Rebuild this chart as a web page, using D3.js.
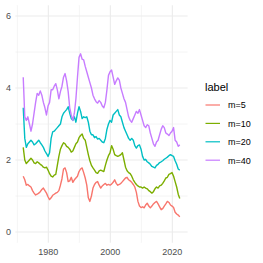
<!DOCTYPE html>
<html>
<head>
<meta charset="utf-8">
<script src="https://cdn.jsdelivr.net/npm/d3@7"></script>
<style>
  body { margin: 0; background: #fff; }
  text { font-family: "Liberation Sans", Arial, sans-serif; }
</style>
</head>
<body>
<svg id="chart" width="263" height="263"></svg>
<script>
// half-yearly readings, first at 1971.9
const startYear = 1971.9;
const step = 0.5;

const m5 = [1.55,1.45,1.3,1.32,1.28,1.25,1.15,1.08,1.03,1.05,1.08,1.12,1.18,1.22,1.15,1.08,0.98,0.9,0.95,1.02,
  1.05,1.08,1.1,1.15,1.3,1.48,1.75,1.78,1.65,1.4,1.42,1.52,1.38,1.45,1.5,1.55,1.68,1.75,1.78,1.65,
  1.5,1.3,0.95,0.85,1.0,1.22,1.32,1.38,1.4,1.3,1.22,1.28,1.32,1.35,1.3,1.32,1.3,1.33,1.38,1.45,
  1.35,1.3,1.32,1.35,1.4,1.45,1.5,1.52,1.45,1.42,1.38,1.32,1.25,1.1,0.85,0.72,0.68,0.7,0.67,0.75,
  0.8,0.72,0.67,0.72,0.78,0.82,0.85,0.78,0.7,0.62,0.65,0.72,0.78,0.85,0.82,0.75,0.72,0.68,0.55,0.5,
  0.47,0.42];
const m10 = [2.35,2.0,1.9,1.95,2.0,2.05,2.0,1.92,1.9,1.95,1.92,1.88,1.85,1.8,1.78,1.8,1.72,1.62,1.55,1.53,
  1.58,1.6,1.85,2.1,2.3,2.4,2.48,2.45,2.38,2.35,2.3,2.22,2.25,2.35,2.45,2.5,2.62,2.68,2.72,2.6,
  2.55,2.35,2.15,1.98,1.85,1.78,1.72,1.65,1.63,1.7,1.72,1.7,1.68,1.85,2.0,2.12,2.2,2.4,2.3,2.15,
  2.12,2.1,2.12,2.15,2.2,2.0,1.8,1.7,1.65,1.62,1.55,1.45,1.38,1.32,1.28,1.25,1.25,1.22,1.25,1.22,
  1.2,1.15,1.12,1.08,1.12,1.2,1.25,1.22,1.28,1.3,1.35,1.42,1.5,1.52,1.6,1.62,1.65,1.55,1.4,1.25,
  1.05,0.93];
const m20 = [3.45,2.6,2.35,2.45,2.5,2.55,2.5,2.42,2.45,2.5,2.55,2.48,2.42,2.35,2.25,2.18,2.1,2.2,2.6,2.78,
  2.8,2.85,2.9,2.95,3.0,3.2,3.3,3.35,3.4,3.48,3.3,3.15,3.1,3.2,3.05,3.3,3.48,3.35,3.15,3.2,
  3.18,3.2,3.05,2.8,2.7,2.7,2.62,2.65,2.58,2.6,2.55,2.5,2.48,2.6,2.85,3.0,3.1,3.05,3.25,3.3,
  3.35,3.4,3.25,3.2,3.05,2.9,2.8,2.7,2.6,2.55,2.6,2.55,2.4,2.33,2.4,2.42,2.3,2.1,2.0,2.02,
  1.95,1.92,1.88,1.82,1.8,1.78,1.85,1.88,1.93,1.95,1.98,2.02,2.05,2.08,2.12,2.15,2.12,2.1,1.98,1.88,
  1.75,1.72];
const m40 = [4.3,3.2,3.1,3.2,3.0,2.8,3.0,3.3,3.6,3.85,3.8,3.92,3.8,3.6,3.45,3.25,3.5,3.6,3.95,3.95,
  4.05,4.12,3.95,3.7,3.9,4.05,4.3,4.4,4.2,3.9,3.45,3.25,3.1,3.3,3.7,4.3,4.85,4.95,4.8,4.78,
  4.6,4.45,4.3,4.15,4.0,3.8,3.7,3.62,3.58,3.65,3.6,3.5,3.45,3.6,3.95,4.35,4.45,4.5,4.3,4.1,
  4.2,4.28,4.22,4.0,3.85,3.7,3.6,3.4,3.2,3.1,3.05,3.15,3.25,3.35,3.3,3.4,3.25,3.1,2.95,2.9,
  2.98,2.95,2.75,2.6,2.45,2.38,2.5,2.55,2.7,2.85,2.95,2.9,2.75,2.72,2.68,2.75,2.8,2.9,2.55,2.5,
  2.38,2.42];

const labels = ["m=5", "m=10", "m=20", "m=40"];
const colors = ["#F8766D", "#7CAE00", "#00BFC4", "#C77CFF"];
const xMajor = [1980, 2000, 2020];
const xMinor = [1970, 1990, 2010];
const yMajor = [0, 2, 4, 6];
const yMinor = [1, 3, 5];

const seriesList = [m5, m10, m20, m40].map((vals, k) => ({
  label: labels[k],
  color: colors[k],
  points: vals.map((v, i) => ({ year: startYear + i * step, value: v }))
}));

const svg = d3.select('#chart');
const panel = { left: 15.4, right: 187.6, top: 5.2, bottom: 242.8 };

const x = d3.scaleLinear().domain([1969.375, 2024.925]).range([panel.left, panel.right]);
const y = d3.scaleLinear().domain([-0.3, 6.3]).range([panel.bottom, panel.top]);

const grid = svg.append('g').attr('stroke', '#EBEBEB');
grid.selectAll('.xminor').data(xMinor).join('line')
  .attr('x1', d => x(d)).attr('x2', d => x(d))
  .attr('y1', panel.top).attr('y2', panel.bottom).attr('stroke-width', 0.55);
grid.selectAll('.yminor').data(yMinor).join('line')
  .attr('y1', d => y(d)).attr('y2', d => y(d))
  .attr('x1', panel.left).attr('x2', panel.right).attr('stroke-width', 0.55);
grid.selectAll('.xmajor').data(xMajor).join('line')
  .attr('x1', d => x(d)).attr('x2', d => x(d))
  .attr('y1', panel.top).attr('y2', panel.bottom).attr('stroke-width', 1.07);
grid.selectAll('.ymajor').data(yMajor).join('line')
  .attr('y1', d => y(d)).attr('y2', d => y(d))
  .attr('x1', panel.left).attr('x2', panel.right).attr('stroke-width', 1.07);

// axes: text only, like theme_minimal
svg.append('g').selectAll('text').data(xMajor).join('text')
  .attr('x', d => x(d)).attr('y', 255)
  .attr('text-anchor', 'middle')
  .attr('font-size', 9).attr('fill', '#4D4D4D')
  .text(d => d);
svg.append('g').selectAll('text').data(yMajor).join('text')
  .attr('x', 11).attr('y', d => y(d) + 3.2)
  .attr('text-anchor', 'end')
  .attr('font-size', 9).attr('fill', '#4D4D4D')
  .text(d => d);

const line = d3.line().x(d => x(d.year)).y(d => y(d.value));
svg.append('g').selectAll('path').data(seriesList).join('path')
  .attr('d', d => line(d.points))
  .attr('fill', 'none')
  .attr('stroke', d => d.color)
  .attr('stroke-width', 1.4)
  .attr('stroke-linejoin', 'round');

// legend
const legend = svg.append('g');
legend.append('text')
  .attr('x', 205).attr('y', 91)
  .attr('font-size', 11).attr('fill', '#000')
  .text('label');
const item = legend.selectAll('g.item').data(seriesList).join('g')
  .attr('transform', (d, i) => `translate(0,${105 + i * 18.4})`);
item.append('line')
  .attr('x1', 205.5).attr('x2', 220)
  .attr('stroke', d => d.color).attr('stroke-width', 1.2);
item.append('text')
  .attr('x', 228).attr('y', 3.3)
  .attr('font-size', 9).attr('fill', '#000')
  .text(d => d.label);
</script>
</body>
</html>
